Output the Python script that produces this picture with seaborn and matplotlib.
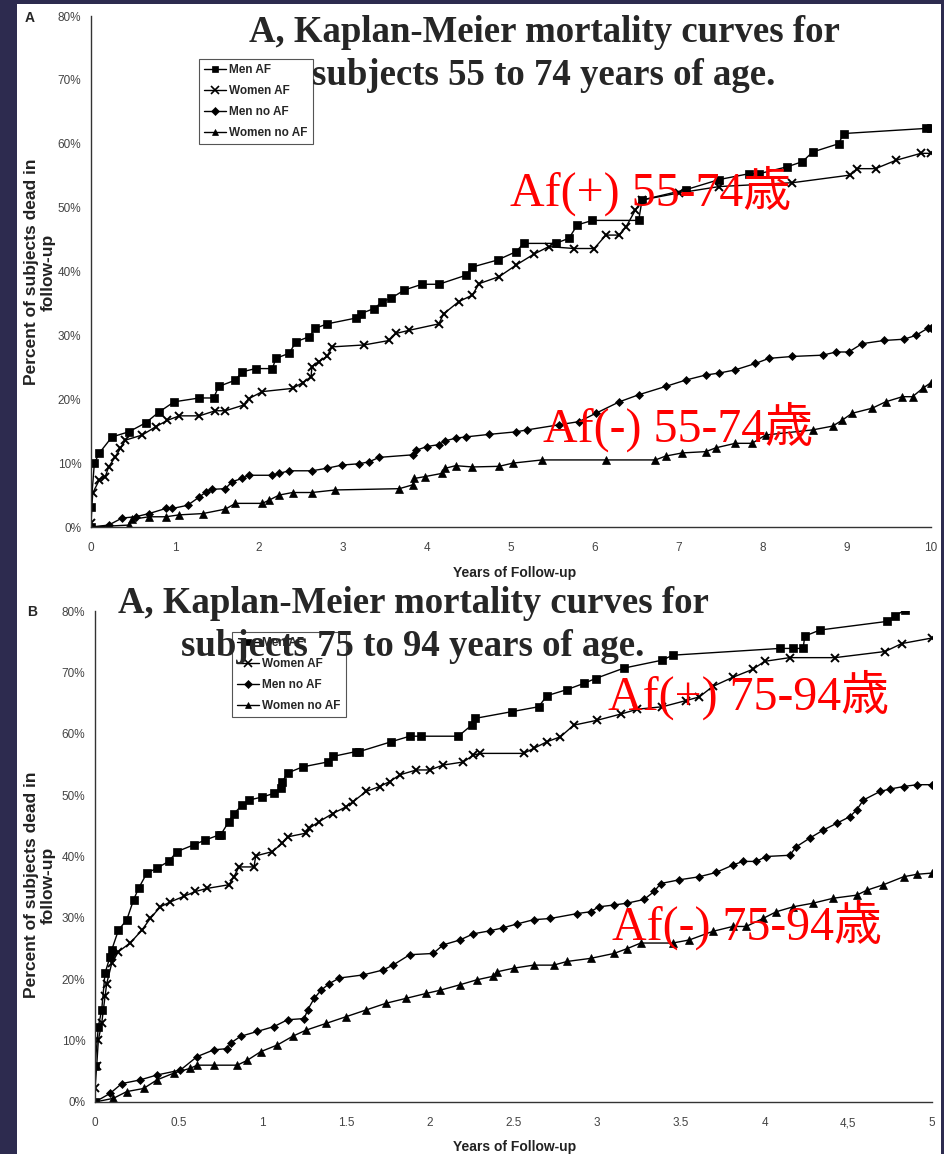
import matplotlib
matplotlib.use("Agg")
import matplotlib.pyplot as plt
import seaborn as sns
from matplotlib import font_manager
from matplotlib.patches import Rectangle
from matplotlib.lines import Line2D
from matplotlib.ticker import FuncFormatter

# ---------------- data (years, percent dead) ----------------
series_names = ["Men AF", "Women AF", "Men no AF", "Women no AF"]

# Panel A: subjects 55 to 74 years
a_men_af_t = [0, 0.0, 0.04, 0.1, 0.25, 0.45, 0.65, 0.81, 0.99, 1.29, 1.46, 1.52, 1.72, 1.8, 1.96, 2.16, 2.2, 2.36, 2.44, 2.6, 2.67, 2.81, 3.15, 3.21, 3.37, 3.47, 3.57, 3.73, 3.94, 4.14, 4.46, 4.54, 4.84, 5.06, 5.15, 5.53, 5.69, 5.79, 5.97, 6.52, 6.56, 7.08, 7.48, 7.83, 7.95, 8.29, 8.47, 8.59, 8.9, 8.96, 9.94, 10.0]
a_men_af_p = [0, 3.2, 10.0, 11.6, 14.1, 14.9, 16.3, 18.0, 19.6, 20.2, 20.2, 22.0, 23.0, 24.3, 24.8, 24.8, 26.4, 27.2, 29.0, 29.8, 31.1, 31.8, 32.7, 33.4, 34.2, 35.3, 35.8, 37.1, 38.0, 38.0, 39.4, 40.7, 41.8, 43.1, 44.4, 44.4, 45.2, 47.3, 48.0, 48.0, 51.2, 52.8, 54.4, 55.3, 55.3, 56.4, 57.2, 58.7, 60.0, 61.6, 62.4, 62.4]
a_women_af_t = [0, 0.02, 0.1, 0.17, 0.21, 0.29, 0.35, 0.41, 0.61, 0.77, 0.91, 1.05, 1.29, 1.48, 1.6, 1.82, 1.88, 2.04, 2.4, 2.52, 2.62, 2.63, 2.71, 2.81, 2.87, 3.25, 3.55, 3.63, 3.79, 4.14, 4.2, 4.38, 4.54, 4.62, 4.86, 5.06, 5.27, 5.45, 5.75, 5.99, 6.13, 6.29, 6.37, 6.48, 6.56, 7.0, 7.48, 8.35, 9.04, 9.12, 9.34, 9.58, 9.88, 10.0]
a_women_af_p = [0.6, 5.3, 7.4, 7.9, 9.4, 11.0, 12.3, 13.6, 14.4, 15.7, 16.7, 17.4, 17.4, 18.2, 18.2, 19.1, 20.1, 21.2, 21.7, 22.6, 23.5, 25.1, 25.9, 26.7, 28.2, 28.5, 29.2, 30.3, 30.8, 31.8, 33.4, 35.3, 36.3, 38.1, 39.2, 41.0, 42.7, 43.9, 43.6, 43.6, 45.7, 45.7, 47.0, 49.6, 51.2, 52.3, 53.3, 53.9, 55.1, 56.1, 56.1, 57.4, 58.5, 58.5]
a_men_noaf_t = [0, 0.21, 0.37, 0.53, 0.69, 0.89, 0.97, 1.15, 1.29, 1.37, 1.44, 1.6, 1.68, 1.8, 1.88, 2.16, 2.24, 2.36, 2.63, 2.81, 2.99, 3.19, 3.31, 3.43, 3.83, 3.87, 4.0, 4.14, 4.22, 4.34, 4.46, 4.74, 5.06, 5.19, 5.57, 5.81, 6.01, 6.29, 6.52, 6.84, 7.08, 7.32, 7.48, 7.67, 7.91, 8.07, 8.35, 8.71, 8.87, 9.02, 9.18, 9.44, 9.68, 9.82, 9.96, 10.0]
a_men_noaf_p = [0, 0.3, 1.4, 1.6, 2.1, 2.9, 2.9, 3.4, 4.7, 5.5, 5.9, 6.0, 7.1, 7.6, 8.1, 8.1, 8.4, 8.8, 8.8, 9.2, 9.7, 9.9, 10.2, 10.9, 11.3, 12.0, 12.6, 12.9, 13.5, 13.9, 14.1, 14.5, 14.9, 15.2, 16.0, 16.5, 17.8, 19.6, 20.7, 22.0, 23.0, 23.8, 24.1, 24.6, 25.6, 26.4, 26.7, 26.9, 27.4, 27.4, 28.7, 29.2, 29.4, 30.0, 31.1, 31.1]
a_women_noaf_t = [0, 0.45, 0.49, 0.69, 0.89, 1.05, 1.33, 1.6, 1.72, 2.04, 2.12, 2.24, 2.4, 2.63, 2.91, 3.67, 3.83, 3.85, 3.98, 4.18, 4.22, 4.34, 4.54, 4.86, 5.02, 5.37, 6.13, 6.72, 6.84, 7.04, 7.32, 7.44, 7.67, 7.87, 8.03, 8.59, 8.83, 8.94, 9.06, 9.3, 9.46, 9.66, 9.78, 9.9, 10.0]
a_women_noaf_p = [0, 0.3, 1.2, 1.6, 1.6, 1.9, 2.1, 2.8, 3.7, 3.7, 4.2, 5.0, 5.4, 5.4, 5.8, 6.0, 6.6, 7.6, 7.9, 8.4, 9.2, 9.6, 9.4, 9.5, 10.0, 10.5, 10.5, 10.5, 11.1, 11.6, 11.8, 12.4, 13.1, 13.1, 14.4, 15.2, 15.8, 16.7, 17.8, 18.6, 19.6, 20.4, 20.4, 21.7, 22.6]

# Panel B: subjects 75 to 94 years
b_men_af_t = [0, 0.0, 0.02, 0.04, 0.06, 0.09, 0.1, 0.14, 0.19, 0.23, 0.26, 0.31, 0.37, 0.44, 0.49, 0.59, 0.66, 0.74, 0.75, 0.8, 0.83, 0.88, 0.92, 1.0, 1.07, 1.11, 1.12, 1.15, 1.24, 1.39, 1.42, 1.56, 1.58, 1.77, 1.88, 1.95, 2.17, 2.25, 2.27, 2.49, 2.65, 2.7, 2.82, 2.92, 2.99, 3.16, 3.39, 3.45, 4.09, 4.17, 4.23, 4.24, 4.33, 4.73, 4.78, 4.84]
b_men_af_p = [0, 5.8, 12.3, 15.0, 21.0, 23.7, 24.8, 28.0, 29.7, 32.9, 34.8, 37.3, 38.1, 39.2, 40.8, 41.9, 42.7, 43.5, 43.5, 45.7, 47.0, 48.4, 49.2, 49.7, 50.3, 51.1, 52.2, 53.6, 54.6, 55.4, 56.3, 57.1, 57.1, 58.7, 59.6, 59.6, 59.6, 61.4, 62.5, 63.6, 64.4, 66.2, 67.2, 68.2, 69.0, 70.7, 72.0, 72.8, 73.9, 73.9, 73.9, 75.9, 76.9, 78.3, 79.2, 80.2]
b_women_af_t = [0, 0.01, 0.02, 0.04, 0.06, 0.07, 0.1, 0.14, 0.21, 0.28, 0.33, 0.39, 0.45, 0.53, 0.6, 0.67, 0.8, 0.83, 0.86, 0.95, 0.96, 1.06, 1.12, 1.15, 1.26, 1.28, 1.34, 1.42, 1.5, 1.54, 1.62, 1.7, 1.76, 1.82, 1.92, 2.0, 2.08, 2.2, 2.26, 2.3, 2.56, 2.62, 2.7, 2.78, 2.86, 3.0, 3.14, 3.24, 3.39, 3.53, 3.61, 3.69, 3.81, 3.93, 4.0, 4.15, 4.42, 4.72, 4.82, 5.0]
b_women_af_p = [2.2, 5.8, 10.1, 12.8, 17.2, 19.3, 22.6, 24.5, 25.9, 28.0, 29.9, 31.8, 32.6, 33.5, 34.3, 34.8, 35.4, 36.7, 38.3, 38.3, 40.1, 40.8, 42.2, 43.2, 43.8, 44.6, 45.7, 47.0, 48.1, 48.9, 50.6, 51.4, 52.2, 53.3, 54.1, 54.1, 54.9, 55.4, 56.5, 56.8, 56.8, 57.6, 58.7, 59.5, 61.4, 62.2, 63.2, 64.0, 64.4, 65.4, 66.0, 67.7, 69.2, 70.5, 71.8, 72.4, 72.4, 73.4, 74.7, 75.6]
b_men_noaf_t = [0, 0.09, 0.16, 0.27, 0.37, 0.51, 0.61, 0.71, 0.79, 0.81, 0.87, 0.97, 1.07, 1.15, 1.25, 1.27, 1.31, 1.35, 1.4, 1.46, 1.6, 1.72, 1.78, 1.88, 2.02, 2.08, 2.18, 2.26, 2.36, 2.44, 2.52, 2.62, 2.72, 2.88, 2.96, 3.01, 3.1, 3.18, 3.28, 3.34, 3.38, 3.49, 3.61, 3.71, 3.81, 3.87, 3.95, 4.01, 4.15, 4.19, 4.27, 4.35, 4.43, 4.51, 4.55, 4.59, 4.69, 4.75, 4.83, 4.91, 5.0]
b_men_noaf_p = [0, 1.4, 3.0, 3.6, 4.4, 5.2, 7.4, 8.5, 8.7, 9.6, 10.7, 11.5, 12.3, 13.4, 13.6, 15.0, 16.9, 18.2, 19.3, 20.2, 20.7, 21.5, 22.3, 24.0, 24.2, 25.6, 26.4, 27.4, 27.9, 28.4, 29.0, 29.7, 29.9, 30.7, 31.0, 31.8, 32.1, 32.4, 33.0, 34.3, 35.6, 36.2, 36.7, 37.4, 38.6, 39.2, 39.2, 40.0, 40.2, 41.6, 43.0, 44.3, 45.4, 46.5, 47.6, 49.2, 50.6, 51.0, 51.4, 51.7, 51.7]
b_women_noaf_t = [0, 0.11, 0.19, 0.29, 0.37, 0.47, 0.57, 0.61, 0.71, 0.85, 0.91, 0.99, 1.09, 1.18, 1.26, 1.38, 1.5, 1.62, 1.74, 1.86, 1.98, 2.06, 2.18, 2.28, 2.38, 2.4, 2.5, 2.62, 2.74, 2.82, 2.96, 3.1, 3.18, 3.26, 3.45, 3.55, 3.69, 3.81, 3.89, 3.99, 4.07, 4.17, 4.29, 4.41, 4.55, 4.61, 4.71, 4.83, 4.91, 5.0]
b_women_noaf_p = [0, 0.6, 1.7, 2.2, 3.6, 4.7, 5.5, 6.0, 6.0, 6.0, 6.8, 8.2, 9.3, 10.7, 11.7, 12.8, 13.9, 15.0, 16.1, 16.9, 17.7, 18.2, 19.1, 19.9, 20.5, 21.2, 21.8, 22.3, 22.3, 22.9, 23.4, 24.2, 25.0, 25.9, 25.9, 26.4, 27.8, 28.6, 28.6, 29.9, 31.0, 31.8, 32.4, 33.2, 33.7, 34.5, 35.4, 36.7, 37.1, 37.3]

a_xticks = [0, 1, 2, 3, 4, 5, 6, 7, 8, 9, 10]
a_xticklabels = ["0", "1", "2", "3", "4", "5", "6", "7", "8", "9", "10"]
b_xticks = [0, 0.5, 1, 1.5, 2, 2.5, 3, 3.5, 4, 4.5, 5]
b_xticklabels = ["0", "0.5", "1", "1.5", "2", "2.5", "3", "3.5", "4", "4,5", "5"]
yticks = [0, 10, 20, 30, 40, 50, 60, 70, 80]

title_a = "A, Kaplan-Meier mortality curves for\nsubjects 55 to 74 years of age."
title_b = "A, Kaplan-Meier mortality curves for\nsubjects 75 to 94 years of age."
notes = ["Af(+) 55-74歳", "Af(-) 55-74歳", "Af(+) 75-94歳", "Af(-) 75-94歳"]
xlabel = "Years of Follow-up"
ylabel = "Percent of subjects dead in\nfollow-up"

# ---------------- style ----------------
sns.set_theme(style="white")
avail = {f.name for f in font_manager.fontManager.ttflist}
narrow = "Liberation Sans Narrow" if "Liberation Sans Narrow" in avail else "Liberation Sans"
plt.rcParams["font.family"] = [narrow, "DejaVu Sans"]

NAVY = "#2d2b4f"
markers = ["s", "x", "D", "^"]
msizes = [5.5, 6, 4.5, 5.5]

fig = plt.figure(figsize=(9.44, 11.54), dpi=100, facecolor=NAVY)
fig.add_artist(Rectangle((17 / 944, 0), (941 - 17) / 944, 1 - 4 / 1154,
                         transform=fig.transFigure, facecolor="white",
                         edgecolor="none", zorder=-5))

ax_a = fig.add_axes([91 / 944, (1154 - 527) / 1154, 840 / 944, 511 / 1154])
ax_b = fig.add_axes([95 / 944, (1154 - 1102) / 1154, 837 / 944, 491 / 1154])

panels = [
    (ax_a, [(a_men_af_t, a_men_af_p), (a_women_af_t, a_women_af_p),
            (a_men_noaf_t, a_men_noaf_p), (a_women_noaf_t, a_women_noaf_p)],
     10, a_xticks, a_xticklabels),
    (ax_b, [(b_men_af_t, b_men_af_p), (b_women_af_t, b_women_af_p),
            (b_men_noaf_t, b_men_noaf_p), (b_women_noaf_t, b_women_noaf_p)],
     5, b_xticks, b_xticklabels),
]

for ax, series, xmax, xt, xtl in panels:
    ax.set_facecolor("none")
    for (t, p), name, m, ms in zip(series, series_names, markers, msizes):
        n = min(len(t), len(p))
        sns.lineplot(x=t[:n], y=p[:n], ax=ax, color="black", marker=m,
                     markersize=ms, markeredgecolor="black",
                     markeredgewidth=1.4 if m == "x" else 0.5,
                     linewidth=1.0, estimator=None, sort=False, legend=False)
    ax.set_xlim(0, xmax)
    ax.set_ylim(0, 80)
    ax.set_xticks(xt)
    ax.set_xticklabels(xtl)
    ax.set_yticks(yticks)
    ax.yaxis.set_major_formatter(FuncFormatter(lambda v, _: f"{int(v)}%"))
    for s in ["top", "right"]:
        ax.spines[s].set_visible(False)
    for s in ["left", "bottom"]:
        ax.spines[s].set_color("#333333")
        ax.spines[s].set_linewidth(1.0)
    ax.tick_params(axis="both", direction="inout", length=8, width=0.8,
                   color="#555555", labelcolor="#444444", labelsize=8.5)
    ax.tick_params(axis="x", pad=7)
    ax.tick_params(axis="y", pad=3)
    ax.set_xlabel("")
    ax.set_ylabel("")
    ax.grid(False)

# axis titles placed as in the reference
for yc in (573, 1147):
    fig.text(515 / 944, 1 - yc / 1154, xlabel, ha="center", va="center",
             fontsize=10, fontweight="bold", color="#222222")
for yc in (272, 885):
    fig.text(40 / 944, 1 - yc / 1154, ylabel, ha="center", va="center",
             rotation=90, fontsize=12.5, fontweight="bold", color="#222222",
             linespacing=1.1, multialignment="center")

# legends
handles = [Line2D([0], [0], color="black", marker=m, markersize=ms * 0.9,
                  markeredgewidth=1.2 if m == "x" else 0.5, linewidth=1.0)
           for m, ms in zip(markers, msizes)]
for ax, bbox in [(ax_a, (199, 59)), (ax_b, (232, 632))]:
    leg = ax.legend(handles, series_names, loc="upper left",
                    bbox_to_anchor=(bbox[0] / 944, 1 - bbox[1] / 1154),
                    bbox_transform=fig.transFigure, borderaxespad=0,
                    frameon=True, fancybox=False,
                    edgecolor="#555555", framealpha=1, borderpad=0.45,
                    handlelength=1.8, handletextpad=0.3, labelspacing=0.75,
                    prop={"family": narrow, "weight": "bold", "size": 8.5})
    leg.get_frame().set_linewidth(0.8)

# panel letters
fig.text(25 / 944, 1 - 18 / 1154, "A", fontsize=10, fontweight="bold", va="center", ha="left")
fig.text(27 / 944, 1 - 612 / 1154, "B", fontsize=10, fontweight="bold", va="center", ha="left")

# titles (drawn on top of the chart)
fig.text(544 / 944, 1 - 54 / 1154, title_a, ha="center", va="center",
         fontsize=26.5, fontweight="bold", family="Liberation Serif",
         linespacing=1.33, zorder=10)
fig.text(413 / 944, 1 - 625 / 1154, title_b, ha="center", va="center",
         fontsize=26.5, fontweight="bold", family="Liberation Serif",
         linespacing=1.28, zorder=10)

# red notes
note_pos = [(510, 191), (543, 427), (608, 695), (612, 925)]
for txt, (x, y) in zip(notes, note_pos):
    fig.text(x / 944, 1 - y / 1154, txt, ha="left", va="center", color="#ff0000",
             fontsize=34.5, family=["Liberation Serif", "Noto Sans CJK JP"], zorder=11)

fig.savefig("out.png", dpi=100, facecolor=NAVY)
